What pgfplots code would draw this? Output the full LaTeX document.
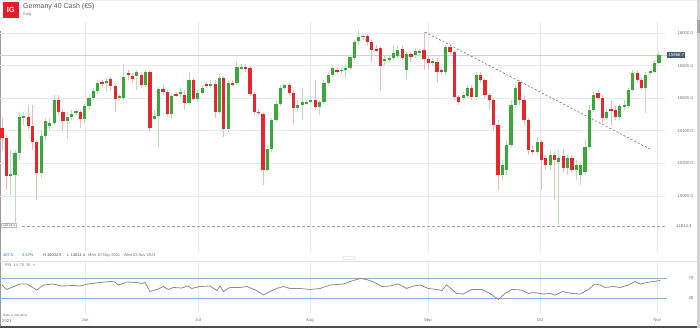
\documentclass[border=0pt]{standalone}
\usepackage{pgfplots}
\pgfplotsset{compat=1.18}
\usepackage{pgfplotstable}
\usepackage{fontspec}
\setmainfont{Liberation Sans}
\definecolor{cg}{RGB}{60,168,60}
\definecolor{cr}{RGB}{230,40,45}
\definecolor{wg}{RGB}{185,225,185}
\definecolor{wr}{RGB}{245,185,185}
\definecolor{gridc}{RGB}{234,234,240}
\definecolor{txt}{RGB}{115,115,115}
\definecolor{band}{RGB}{140,175,210}
\definecolor{pbox}{RGB}{75,90,118}
\definecolor{pline}{RGB}{205,205,232}
\definecolor{igred}{RGB}{226,30,40}
\definecolor{blu}{RGB}{40,110,190}
\pgfplotstableread{
i o h l c
0 15416 15478 15281 15355
1 15355 15373 15036 15122
2 15122 15281 15005 15134
3 15128 15281 14814 15263
4 15263 15515 15220 15484
5 15478 15515 15435 15490
6 15484 15558 15404 15429
7 15429 15558 15281 15330
8 15330 15343 14974 15140
9 15140 15404 15109 15367
10 15367 15478 15343 15460
11 15429 15478 15404 15447
12 15447 15619 15435 15589
13 15589 15619 15496 15515
14 15515 15539 15404 15460
15 15460 15515 15355 15484
16 15484 15527 15466 15502
17 15509 15533 15496 15521
18 15515 15527 15416 15472
19 15472 15564 15447 15552
20 15552 15619 15527 15601
21 15601 15662 15589 15644
22 15644 15711 15625 15693
23 15699 15711 15668 15687
24 15693 15724 15638 15705
25 15718 15730 15650 15675
26 15675 15687 15515 15595
27 15601 15625 15589 15613
28 15601 15810 15589 15730
29 15754 15773 15711 15742
30 15736 15754 15693 15718
31 15736 15773 15650 15761
32 15742 15761 15662 15681
33 15681 15773 15668 15761
34 15761 15767 15404 15416
35 15472 15527 15466 15490
36 15490 15668 15294 15656
37 15656 15675 15619 15638
38 15638 15650 15490 15502
39 15502 15625 15478 15613
40 15625 15638 15607 15619
41 15625 15662 15601 15638
42 15619 15650 15527 15570
43 15570 15761 15558 15711
44 15711 15724 15589 15595
45 15595 15650 15576 15632
46 15632 15681 15619 15662
47 15687 15699 15662 15681
48 15681 15711 15662 15687
49 15687 15711 15478 15515
50 15515 15748 15502 15724
51 15724 15736 15361 15410
52 15410 15711 15392 15693
53 15693 15711 15675 15687
54 15693 15822 15681 15791
55 15785 15810 15773 15791
56 15791 15810 15761 15779
57 15785 15797 15613 15625
58 15625 15638 15496 15515
59 15515 15527 15496 15509
60 15502 15515 15066 15158
61 15158 15312 15146 15287
62 15287 15478 15269 15466
63 15466 15589 15453 15564
64 15564 15681 15552 15662
65 15662 15687 15650 15681
66 15681 15693 15619 15632
67 15632 15650 15435 15539
68 15539 15589 15515 15558
69 15558 15662 15466 15576
70 15570 15589 15558 15576
71 15576 15613 15564 15589
72 15589 15711 15527 15546
73 15546 15589 15496 15576
74 15576 15711 15564 15693
75 15693 15761 15681 15742
76 15742 15797 15730 15785
77 15773 15785 15748 15761
78 15767 15785 15754 15773
79 15773 15810 15724 15785
80 15785 15865 15773 15853
81 15847 15957 15834 15945
82 15951 16019 15926 15976
83 15976 15994 15957 15982
84 15982 15994 15926 15945
85 15945 15957 15822 15896
86 15902 15926 15883 15896
87 15908 15920 15650 15797
88 15828 15865 15804 15840
89 15834 15859 15822 15847
90 15847 15926 15834 15877
91 15859 15920 15847 15896
92 15902 15920 15834 15847
93 15773 15883 15711 15871
94 15871 15883 15822 15853
95 15865 15908 15847 15890
96 15877 15902 15865 15890
97 15896 16006 15773 15840
98 15840 15865 15773 15816
99 15816 15847 15797 15828
100 15822 15847 15699 15761
101 15773 15785 15742 15761
102 15761 15926 15742 15914
103 15914 15933 15865 15883
104 15883 15896 15589 15607
105 15607 15619 15558 15576
106 15601 15638 15589 15619
107 15613 15681 15601 15662
108 15662 15681 15589 15607
109 15607 15761 15589 15742
110 15742 15761 15693 15711
111 15711 15724 15601 15619
112 15619 15632 15527 15589
113 15589 15601 15404 15435
114 15435 15466 15036 15128
115 15128 15220 15097 15189
116 15158 15343 15128 15312
117 15312 15589 15294 15558
118 15558 15681 15539 15662
119 15699 15711 15558 15589
120 15589 15619 15435 15466
121 15466 15478 15251 15281
122 15281 15312 15251 15269
123 15269 15355 15251 15330
124 15330 15343 15036 15220
125 15232 15251 15158 15189
126 15189 15281 15158 15251
127 15251 15269 14974 15220
128 15208 15281 14820 15232
129 15244 15281 15146 15171
130 15171 15251 15128 15232
131 15232 15251 15146 15158
132 15158 15220 15097 15189
133 15128 15208 15066 15189
134 15146 15343 15128 15300
135 15300 15558 15281 15527
136 15527 15638 15515 15619
137 15632 15650 15589 15601
138 15601 15619 15447 15478
139 15478 15539 15466 15515
140 15533 15589 15435 15521
141 15527 15552 15466 15484
142 15484 15564 15466 15552
143 15546 15589 15527 15558
144 15552 15662 15539 15650
145 15650 15773 15638 15754
146 15754 15773 15699 15711
147 15711 15724 15650 15662
148 15662 15761 15509 15742
149 15754 15779 15742 15767
150 15761 15834 15754 15816
151 15816 15883 15810 15865
}\candles
\pgfplotstableread{
i r
0 56
1.1 47
4.1 58
5.7 58
8.0 46
9.5 56
11.8 58
13.7 54
16.4 55
17.9 54
19.8 58
22.5 61
24.8 63
26 62
26.7 56
27.9 59
28.7 62
31 61
32.1 59
32.9 61
34 43
35.6 47
37.1 53
38.2 47
39.4 51
41.3 50
42.8 54
43.6 49
45.5 53
47.8 54
49.4 45
50.1 54
50.9 43
52.4 51
54.7 51
56.3 53
58.5 45
60.1 36
61.6 43
63.1 49
64.7 53
66.2 49
68.5 49
70.8 47
73.1 49
75.4 56
76.9 57
78.5 58
80 63
82.3 69
83.8 67
85.7 61
87.3 53
89.2 54
91.1 58
93 49
94.6 54
96.1 56
98 49
99.9 47
101.1 45
102.2 56
104.5 39
106 38
108 47
110.3 47
112.2 39
114.1 27
115.6 39
117.2 47
119.5 46
121 39
122.2 41
124.4 38
126 39
127.1 36
129 43
130.9 39
132.9 38
134.8 47
136.3 58
137.5 56
138.6 51
140.5 53
142.1 51
144 56
145.5 63
146.7 58
148.2 61
151.3 65
}\rsi
\begin{document}
\begin{tikzpicture}[x=1pt,y=1pt]
\useasboundingbox (0,0) rectangle (700,328);
% frame pieces
\fill[gray!35] (697,0) rectangle (700,328);
\fill[gray!70] (697,295) rectangle (700,308);
\draw[gray!80, line width=1pt] (0.5,0) -- (0.5,297);
\draw[gray!15, line width=0.5pt] (0,327.7) -- (697,327.7);
\draw[black!70, line width=1.6pt] (0,0.8) -- (697,0.8);
% title
\fill[igred] (3,310) rectangle (18.5,325.5);
\node[text=white, font=\fontsize{7.5}{8}\selectfont\bfseries] at (10.75,317.75) {IG};
\node[anchor=west, text=black!65, font=\fontsize{7}{8}\selectfont, inner sep=0pt] at (23,321) {Germany 40 Cash (€5)};
\node[anchor=west, text=txt, font=\fontsize{3.8}{4}\selectfont, inner sep=0pt] at (23,313) {Daily};
% info row
\node[anchor=west, text=blu, font=\fontsize{4}{5}\selectfont, inner sep=0pt] at (3,73) {407.5};
\node[anchor=west, text=blu, font=\fontsize{4}{5}\selectfont, inner sep=0pt] at (22,73) {2.67\%};
\node[anchor=west, text=black!70, font=\fontsize{4}{5}\selectfont, inner sep=0pt] at (43,73) {H 16032.8};
\node[anchor=west, text=black!70, font=\fontsize{4}{5}\selectfont, inner sep=0pt] at (67,73) {L 14814.4};
\node[anchor=west, text=txt, font=\fontsize{4}{5}\selectfont, inner sep=0pt] at (88,73) {Mon 10 May 2021 - Wed 03 Nov 2021};
\draw[gray!25, line width=0.5pt] (0,67) -- (697,67);
\draw[gray!50, line width=0.4pt, rounded corners=0.8pt] (343,68.5) rectangle (355,71.5);
\node[anchor=west, text=txt, font=\fontsize{3.8}{4}\selectfont, inner sep=0pt] at (5,63) {RSI\ \ 14\ \ 70\ \ 30\ \ \texttimes};
\node[anchor=west, text=txt, font=\fontsize{3.2}{4}\selectfont, inner sep=0pt] at (3,13) {Data is indicative};
% main price axis
\begin{axis}[
  at={(0pt,76pt)}, anchor=south west,
  width=665pt, height=230pt, scale only axis,
  xmin=-0.46, xmax=152.4, ymin=14655, ymax=16068,
  axis line style={draw=none}, tick style={draw=none},
  xtick={19.1,45.1,70.8,97.9,123.7,150.6}, xticklabels={},
  ytick={15000,15200,15400,15600,15800,16000},
  yticklabel pos=right, scaled y ticks=false,
  /pgf/number format/assume math mode=true,
  yticklabel style={font=\fontsize{4.3}{5}\selectfont, text=txt, xshift=9pt,
    /pgf/number format/.cd, fixed, fixed zerofill, precision=1, 1000 sep={}},
  xmajorgrids, ymajorgrids, grid style={gridc, line width=0.5pt},
  clip=false,
]
\addplot[pline, line width=0.7pt, forget plot] coordinates {(-0.46,15865) (152.9,15865)};
\addplot[gray!70, dashed, dash pattern=on 2.5pt off 2.5pt, line width=0.5pt, forget plot] coordinates {(4.6,14814) (152.4,14814)};
% wicks
\addplot[draw=none, mark=none, forget plot, restrict expr to domain={\thisrow{c}-\thisrow{o}}{0:100000},
  error bars/.cd, y dir=both, y explicit, error mark=none, error bar style={draw=wg, solid, line width=0.9pt}]
  table[x=i, y expr={(\thisrow{h}+\thisrow{l})/2}, y error expr={(\thisrow{h}-\thisrow{l})/2}] {\candles};
\addplot[draw=none, mark=none, forget plot, restrict expr to domain={\thisrow{c}-\thisrow{o}}{-100000:-0.01},
  error bars/.cd, y dir=both, y explicit, error mark=none, error bar style={draw=wr, solid, line width=0.9pt}]
  table[x=i, y expr={(\thisrow{h}+\thisrow{l})/2}, y error expr={(\thisrow{h}-\thisrow{l})/2}] {\candles};
% bodies
\addplot[draw=none, mark=none, forget plot, restrict expr to domain={\thisrow{c}-\thisrow{o}}{0:100000},
  error bars/.cd, y dir=both, y explicit, error mark=none, error bar style={draw=cg, solid, line width=3.2pt}]
  table[x=i, y expr={(\thisrow{o}+\thisrow{c})/2}, y error expr={max(abs(\thisrow{c}-\thisrow{o})/2,3.5)}] {\candles};
\addplot[draw=none, mark=none, forget plot, restrict expr to domain={\thisrow{c}-\thisrow{o}}{-100000:-0.01},
  error bars/.cd, y dir=both, y explicit, error mark=none, error bar style={draw=cr, solid, line width=3.2pt}]
  table[x=i, y expr={(\thisrow{o}+\thisrow{c})/2}, y error expr={max(abs(\thisrow{c}-\thisrow{o})/2,3.5)}] {\candles};
% trend line
\addplot[black!55, dashed, dash pattern=on 2pt off 2pt, line width=0.6pt, forget plot] coordinates {(97.2,16006) (149.4,15281)};
% labels
\node[anchor=west, fill=pbox, text=white, font=\fontsize{4.3}{5}\selectfont, inner sep=1.2pt] at (axis cs:152.9,15865) {15866.7};
\node[anchor=west, fill=white, draw=gray!50, line width=0.3pt, text=txt, font=\fontsize{3.6}{4}\selectfont, inner sep=1pt] at (axis cs:-0.2,14820) {14814.4};
\node[anchor=west, text=txt, font=\fontsize{4.3}{5}\selectfont, inner sep=0pt] at (axis cs:154.9,14814) {14814.4};
\end{axis}
% RSI axis
\begin{axis}[
  at={(0pt,15pt)}, anchor=south west,
  width=665pt, height=50pt, scale only axis,
  xmin=-0.46, xmax=152.4, ymin=0, ymax=100,
  axis line style={draw=none}, tick style={draw=none},
  xtick={19.1,45.1,70.8,97.9,123.7,150.6},
  xticklabels={Jun,Jul,Aug,Sep,Oct,Nov},
  xticklabel style={font=\fontsize{4.3}{5}\selectfont, text=txt, yshift=-2pt},
  ytick={30,70}, yticklabel pos=right,
  /pgf/number format/assume math mode=true,
  yticklabel style={font=\fontsize{4.3}{5}\selectfont, text=txt, xshift=20pt},
  xmajorgrids, grid style={gridc, line width=0.5pt},
  clip=false,
]
\addplot[band, line width=0.7pt, forget plot] coordinates {(-0.46,70) (152.9,70)};
\addplot[band, line width=0.7pt, forget plot] coordinates {(-0.46,30) (152.9,30)};
\addplot[gray!90, line width=0.8pt, forget plot] table[x=i, y=r] {\rsi};
\node[anchor=west, text=txt, font=\fontsize{4.3}{5}\selectfont, inner sep=0pt] at (axis cs:0,-17) {2021};
\end{axis}
\end{tikzpicture}
\end{document}
